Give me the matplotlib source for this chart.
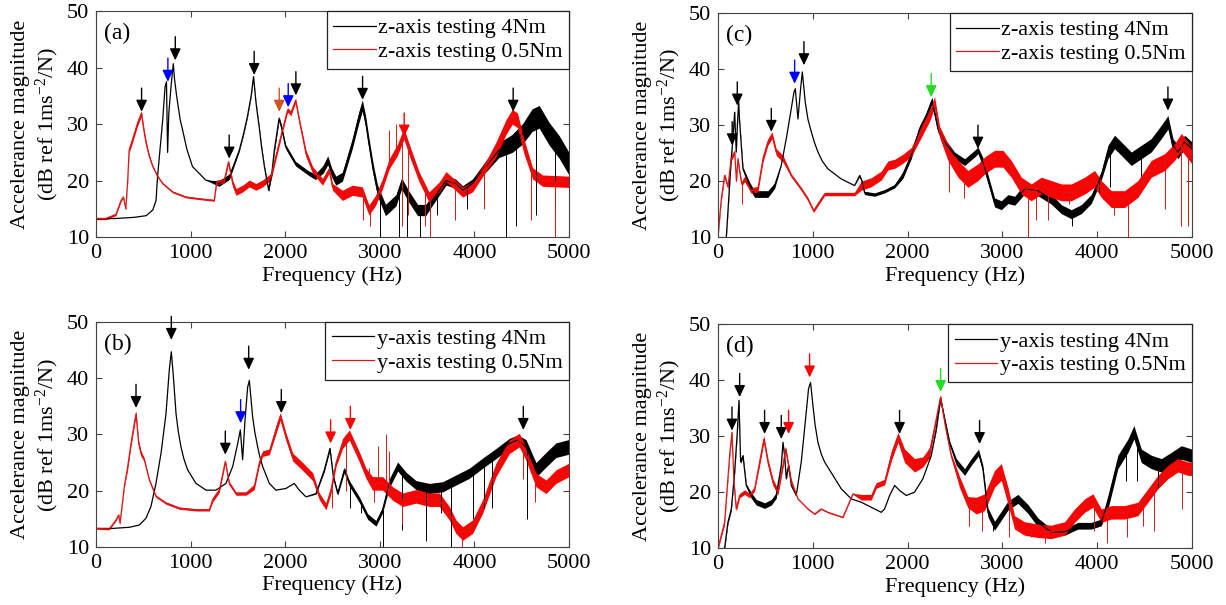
import numpy as np
import matplotlib
matplotlib.use('Agg')
import matplotlib.pyplot as plt

plt.rcParams['font.family'] = ['Liberation Serif', 'DejaVu Serif']
plt.rcParams['mathtext.fontset'] = 'custom'
plt.rcParams['mathtext.rm'] = 'Liberation Serif'
plt.rcParams['mathtext.default'] = 'regular'

FS = 16
RED = '#ff0000'
RED_LINE = '#d41a1a'

# ---------------- panel (a): z-axis ----------------
a_blk_f = [0, 200, 400, 530, 600, 635, 650, 705, 730, 745, 757, 770, 795, 817, 830, 850, 870, 890, 915, 960,
           1020, 1160, 1300, 1410, 1515, 1560, 1600, 1640, 1665, 1690, 1705, 1725, 1750, 1780, 1825, 1860, 1885, 1935, 1960, 2005,
           2110, 2250, 2320, 2400, 2450, 2490, 2535, 2605, 2710, 2780, 2815, 2850, 2885, 2930, 2975, 3060, 3170, 3230, 3310, 3400,
           3485, 3555, 3700, 3800, 3875, 3980, 4120, 4260, 4400, 4510, 4610, 4685, 4790, 4895, 5000]
a_blk_db = [13.2, 13.3, 13.5, 13.8, 14.8, 16.5, 20.6, 30.7, 36.6, 37.5, 25, 32, 37, 40.7, 38, 35.3, 33, 30.8, 29, 25.6,
            22.5, 20.1, 19.5, 20.7, 25.4, 28.3, 31.3, 35, 38.4, 34, 32, 29.5, 26, 22.5, 18.3, 21.5, 25.4, 31, 29.5, 26,
            23, 21.3, 20.7, 22, 23.6, 21.5, 20, 20.7, 26.6, 31.3, 33.3, 30.5, 26.6, 22, 18.3, 14.8, 16.5, 19.5, 17.1, 14.8,
            14.8, 16.5, 20, 19.5, 18.3, 19.5, 22.5, 25.4, 26.6, 28.3, 30.7, 31.3, 28.3, 26, 23]
a_blk_w = ([0] * 22 + [0.5] * 2 + [0.2] * 10 + [0.3] + [0.4] * 7 + [0.5] + [0.7] + [0.8] * 4 + [0.9] +
           [1.0] * 12 + [0.9] + [0.8] * 4 + [1.0, 1.3, 1.6, 1.8] + [2.0] * 5)
a_blk_spk_f = [3000, 3200, 3290, 3420, 3600, 3920, 4100, 4330, 4440, 4650, 4850]
a_blk_spk_y = [10, 10, 10, 10, 14, 15, 16, 10, 12, 14, 15]

a_red_f = [0, 105, 210, 265, 290, 315, 335, 350, 385, 440, 480, 505, 530, 560, 600, 650, 705, 810, 950, 1090,
           1250, 1275, 1355, 1400, 1445, 1480, 1550, 1620, 1690, 1760, 1850, 1900, 1970, 2025, 2060, 2110, 2155, 2220, 2290, 2395,
           2465, 2500, 2605, 2710, 2815, 2885, 2955, 3030, 3100, 3185, 3255, 3325, 3415, 3520, 3630, 3700, 3800, 3875, 3980, 4120,
           4225, 4335, 4400, 4455, 4525, 4615, 4720, 5000]
a_red_db = [13.3, 13.3, 14, 16.5, 17.1, 15, 20, 25.4, 27.2, 30.2, 31.9, 29, 26.6, 24.5, 22.5, 20.8, 19.5, 18, 17.1, 16.8,
            16.5, 19.7, 20, 23.3, 19.5, 18, 18.6, 19.5, 18.9, 19.5, 20.7, 24.2, 28.9, 32.5, 31.9, 34.2, 30.2, 24.8, 21.9, 19.8,
            21.9, 18.9, 17.4, 18.3, 18, 14.8, 16.5, 19.5, 23, 25.4, 28.3, 24.8, 20.7, 17.1, 18.9, 20.7, 19.2, 18, 18.9, 22.5,
            25.4, 29.5, 31.3, 30.7, 26, 21.3, 20, 19.8]
a_red_w = ([0.2] * 6 + [0.3] + [0.5] * 5 + [0.4, 0.3, 0.2] + [0.15] * 6 + [0.4] * 3 + [0.6] * 8 + [0.4] * 5 +
           [0.6] * 5 + [0.9] * 7 + [1.0] * 3 + [0.9] * 8 + [1.3] * 5 + [1.0] * 3)
a_red_spk_f = [2820, 2900, 3100, 3170, 3230, 3300, 3480, 3530, 3800, 4100, 4600, 4850]
a_red_spk_y = [13, 12, 29, 30, 12, 14, 12, 10, 13, 15, 13, 10]

a_arr_f = [482, 760, 838, 1408, 1672, 1937, 2032, 2113, 2818, 3258, 4410]
a_arr_y = [32.2, 37.5, 41.3, 23.9, 38.7, 32.2, 33.0, 35.1, 34.3, 27.8, 32.2]
a_arr_c = ['k', 'b', 'k', 'k', 'k', '#d2521e', 'b', 'k', 'k', 'r', 'k']

# ---------------- panel (b): y-axis ----------------
b_blk_f = [0, 176, 352, 458, 528, 581, 634, 687, 740, 775, 796, 818, 846, 870, 898, 930, 969, 1057, 1163, 1268,
           1374, 1445, 1498, 1526, 1550, 1575, 1603, 1621, 1656, 1680, 1709, 1735, 1762, 1832, 1902, 2008, 2096, 2149, 2220, 2326,
           2414, 2473, 2509, 2555, 2625, 2678, 2784, 2872, 2960, 3030, 3100, 3189, 3277, 3383, 3524, 3665, 3805, 3946, 4087, 4228,
           4369, 4457, 4545, 4651, 4757, 4862, 5000]
b_blk_db = [13.3, 13.3, 13.5, 13.9, 15.1, 17.2, 21.3, 26.6, 33.7, 41.5, 44.7, 40.3, 33.7, 30.5, 27.8, 25.6, 23.7, 21.3, 20.1, 20.1,
            21.3, 24.3, 28.4, 30.8, 25.5, 32.5, 38.4, 39.6, 33.1, 30.3, 27.8, 25.8, 24.3, 21.3, 20.1, 20.4, 21.3, 20.1, 18.9, 19.5,
            23.7, 27.5, 22.5, 19.5, 23.7, 21.3, 18.4, 15.4, 14.2, 16.6, 21.3, 24.3, 22.5, 21, 20.4, 20.7, 21.9, 23.1, 24.9, 26.6,
            28.4, 29, 27.8, 23.7, 25.5, 27.2, 27.8]
b_blk_w = [0] * 39 + [0.1] + [0.3] * 4 + [0.5] * 6 + [0.8] * 4 + [0.9] * 8 + [1.3] * 5
b_blk_spk_f = [2690, 2800, 3030, 3240, 3490, 3650, 3750, 3990, 4100, 4190, 4560]
b_blk_spk_y = [17, 16, 10, 13, 11, 16, 10, 15, 17, 17, 15]

b_red_f = [0, 141, 211, 240, 254, 300, 335, 370, 405, 423, 451, 476, 511, 564, 634, 740, 881, 1057, 1198, 1233,
           1304, 1367, 1409, 1480, 1585, 1673, 1726, 1762, 1832, 1902, 1948, 2008, 2079, 2185, 2290, 2361, 2431, 2484, 2537, 2607,
           2678, 2784, 2854, 2924, 3030, 3136, 3241, 3383, 3524, 3629, 3735, 3805, 3876, 3981, 4087, 4228, 4369, 4475, 4545, 4651,
           4757, 4862, 5000]
b_red_db = [13.3, 13.2, 14.8, 15.7, 14.2, 20.8, 24.3, 28.4, 32, 33.7, 28.4, 26.6, 25.5, 21.9, 19, 17.8, 16.9, 16.6, 16.6, 18.4,
            20.1, 25.2, 21.3, 19.5, 19.5, 20.7, 24.9, 26.6, 26.9, 30.8, 33.2, 29.6, 26, 24.3, 22.5, 19, 17.2, 20.1, 24.9, 28.4,
            29.9, 26, 23.1, 21.3, 21.3, 19.5, 18.4, 19, 18.4, 18.4, 16, 13.6, 12.4, 13.6, 17.2, 23.7, 27.8, 29, 26.6, 21.9,
            20.7, 22.5, 23.7]
b_red_w = ([0.15] * 5 + [0.2] + [0.5] * 6 + [0.3] + [0.2] * 6 + [0.4] * 2 + [0.3] * 4 + [0.5] * 4 + [0.7] * 6 +
           [0.6] * 4 + [0.9] * 4 + [1.2] * 20)
b_red_spk_f = [2500, 2640, 2890, 2940, 2977, 3065, 3100, 3240, 3870, 4510, 4640]
b_red_spk_y = [17, 20, 24, 18, 28, 30, 27, 14, 10, 22, 18]

b_arr_f = [423, 796, 1367, 1529, 1614, 1959, 2480, 2689, 4517]
b_arr_y = [34.7, 46.8, 26.4, 32.0, 41.5, 33.8, 28.4, 30.8, 30.8]
b_arr_c = ['k', 'k', 'k', 'b', 'k', 'k', 'r', 'r', 'k']

# ---------------- panel (c): z-axis ----------------
c_blk_f = [88, 105, 140, 158, 176, 193, 205, 218, 229, 264, 334, 387, 457, 527, 598, 668, 721, 774, 802, 816,
           844, 872, 890, 921, 950, 985, 1020, 1055, 1100, 1160, 1300, 1442, 1494, 1519, 1547, 1653, 1758, 1864, 1951, 2039,
           2127, 2198, 2258, 2321, 2391, 2496, 2602, 2707, 2743, 2795, 2848, 2918, 2989, 3059, 3130, 3235, 3375, 3516, 3622, 3727,
           3833, 3938, 4044, 4114, 4184, 4255, 4360, 4466, 4571, 4677, 4747, 4800, 4852, 4923, 5000]
c_blk_db = [10, 14.5, 24, 27.6, 32.3, 25.2, 30, 34.1, 30.5, 22.2, 19.2, 17.7, 17.7, 17.7, 19.2, 22.8, 27.6, 33, 35.9, 36.5,
            31.1, 36.5, 39.5, 34.1, 31, 28.8, 26.8, 25.2, 23.6, 22.2, 20.4, 19.2, 21, 20, 17.9, 17.6, 18.2, 19.1, 21.1, 24.6,
            29.3, 31.7, 34.4, 29.3, 27, 24.6, 23.4, 24.9, 25.5, 23.4, 20.4, 16.2, 15.7, 16.8, 16.5, 18.6, 18.3, 16.8, 15, 14.1,
            15, 16.8, 21, 25.2, 27, 25.8, 24, 25.2, 26.4, 28.8, 30.5, 26.4, 25.2, 27, 25.8]
c_blk_w = ([0.3] * 10 + [0.6] * 4 + [0.5] + [0] * 17 + [0.2] * 2 + [0.3] * 4 + [0.6] * 11 + [0.8] * 6 +
           [0.9] * 3 + [0.8] * 5 + [1.2] * 12)
c_blk_spk_f = [3740, 4020, 4140, 4460]
c_blk_spk_y = [12, 18, 19, 21]

c_red_f = [0, 35, 70, 105, 140, 176, 195, 211, 230, 250, 281, 352, 422, 475, 527, 570, 615, 686, 774, 879,
           949, 1009, 1055, 1125, 1231, 1336, 1442, 1512, 1617, 1723, 1793, 1864, 1951, 2039, 2145, 2233, 2285, 2338, 2426, 2532,
           2637, 2743, 2813, 2918, 3006, 3094, 3200, 3305, 3411, 3516, 3622, 3727, 3868, 3973, 4044, 4149, 4290, 4430, 4571, 4712,
           4817, 4888, 5000]
c_red_db = [10, 16.8, 21, 19, 24, 25.2, 20, 24, 21.6, 19.5, 20.4, 18.3, 18.6, 24, 27, 28.2, 25.2, 24, 21, 18.6,
            16.8, 14.7, 15.9, 17.7, 17.7, 17.7, 17.7, 19.2, 19.8, 21, 22.8, 23.1, 24, 25.2, 28.8, 31.7, 34.1, 28.8, 25.2, 22.2,
            20.4, 21.6, 22.8, 24, 24, 22.2, 19.2, 18, 19.2, 18.6, 18, 18, 19.2, 20.4, 18.6, 16.8, 16.8, 18.6, 22.2, 23.4,
            25.2, 27, 24.6]
c_red_w = [0.3] + [0.4] * 9 + [0.5] * 3 + [0.6] * 5 + [0.3] * 9 + [0.8] * 7 + [1.0] * 4 + [1.5] * 25
c_red_spk_f = [250, 2440, 2600, 3270, 3350, 3480, 3700, 4180, 4325, 4720, 4890, 4960]
c_red_spk_y = [16, 18, 17, 10, 13, 13, 16, 14, 10, 15, 12, 12]

c_arr_f = [150, 204, 563, 809, 907, 2250, 2743, 4747]
c_arr_y = [26.4, 33.5, 28.8, 37.4, 40.7, 35.0, 25.8, 32.6]
c_arr_c = ['k', 'k', 'k', 'b', 'k', '#22dd22', 'k', 'k']

# ---------------- panel (d): y-axis ----------------
d_blk_f = [70, 105, 141, 176, 204, 222, 239, 264, 299, 352, 404, 492, 563, 615, 668, 686, 703, 721, 745, 774,
           826, 879, 921, 956, 977, 1002, 1025, 1055, 1090, 1125, 1213, 1301, 1406, 1512, 1617, 1723, 1758, 1811, 1864, 1916,
           1987, 2074, 2162, 2250, 2303, 2348, 2391, 2443, 2514, 2602, 2672, 2749, 2795, 2848, 2918, 2989, 3059, 3164, 3270, 3375,
           3516, 3657, 3797, 3938, 4044, 4114, 4219, 4325, 4388, 4466, 4571, 4677, 4782, 4888, 5000]
d_blk_db = [10, 14.6, 17, 23.6, 30.7, 36.4, 25.4, 26.5, 21.2, 19.4, 18.2, 17.6, 18.2, 19.4, 24.8, 28.9, 26.5, 22.4, 24.8, 21.2,
            19.4, 25.4, 32.5, 38.5, 39.6, 35.5, 32, 28.9, 26.8, 25.4, 23, 20.6, 18.8, 18.2, 17.3, 16.4, 17, 19.4, 21.2, 20.3,
            19.4, 20, 22.4, 26.5, 31.3, 36.7, 33.1, 28.9, 25.4, 23.6, 25.4, 27.1, 24.2, 16.4, 14, 15.8, 17.6, 18.8, 17, 14.6,
            12.9, 12.9, 14, 14, 14.6, 18.2, 25.4, 28.3, 30.7, 26.5, 25.4, 24.8, 25.9, 27.1, 26.5]
d_blk_w = [0.3] * 9 + [0.5] * 5 + [0.2] * 6 + [0] * 24 + [0.3] * 4 + [0.6] * 5 + [0.8] * 7 + [0.6] * 5 + [1.2] * 10
d_blk_spk_f = [2900, 4300, 4420, 4640]
d_blk_spk_y = [13, 22, 22, 21]

d_red_f = [0, 70, 123, 148, 169, 193, 229, 281, 334, 387, 440, 485, 527, 580, 633, 686, 714, 738, 774, 844,
           949, 1020, 1090, 1160, 1266, 1318, 1371, 1424, 1512, 1617, 1670, 1758, 1829, 1899, 1969, 2074, 2162, 2233, 2303, 2348,
           2398, 2461, 2549, 2637, 2725, 2813, 2918, 2989, 3059, 3129, 3235, 3375, 3516, 3657, 3762, 3868, 3956, 4044, 4149, 4290,
           4430, 4536, 4641, 4747, 4852, 4958, 5000]
d_red_db = [10, 14.6, 26.5, 30.7, 21.8, 17, 19.4, 20, 19.4, 20.6, 25.4, 29.5, 25.4, 21.8, 20, 24.8, 27.7, 25.4, 21.8, 18.8,
            17, 16.1, 17, 16.4, 15.8, 15.5, 17.6, 19.7, 19.1, 19.1, 21.2, 21.8, 26.5, 29.8, 26.5, 24.8, 25.4, 27.1, 33.1, 37,
            31.9, 26.5, 21.8, 18.2, 17.6, 18.2, 22.4, 23.6, 19.4, 14.6, 13.5, 13.1, 12.9, 13.5, 15.8, 17.6, 18.5, 15.8, 16.4, 16.4,
            17, 19.4, 21.8, 23.6, 24.8, 24.2, 24.2]
d_red_w = ([0.3] + [0.4] * 9 + [0.6] * 4 + [0.5] * 5 + [0.1] * 9 + [0.5] * 4 + [0.9] * 2 + [1.2] * 2 + [0.9] * 2 +
           [0.4] * 4 + [1.0] * 2 + [1.5] * 5 + [1.2] * 18)
d_red_spk_f = [2650, 2790, 3070, 3300, 3450, 3970, 4100, 4320, 4480, 4600, 4900]
d_red_spk_y = [14, 13, 12, 12, 11, 13, 11, 12, 14, 13, 17]

d_arr_f = [148, 229, 492, 668, 745, 967, 1916, 2349, 2760]
d_arr_y = [31.0, 37.0, 30.4, 29.5, 30.4, 40.5, 30.4, 37.9, 28.6]
d_arr_c = ['k', 'k', 'k', 'k', 'r', 'r', 'k', '#22dd22', 'k']


def draw_curve(ax, f, db, w, spk_f, spk_y, fill_col, line_col, label):
    f = np.asarray(f, float)
    db = np.asarray(db, float)
    w = np.asarray(w, float)
    ax.fill_between(f, db - w, db + w, color=fill_col, lw=0)
    ax.plot(f, db, color=line_col, lw=0.9, label=label)
    top = np.interp(spk_f, f, db)
    ax.vlines(spk_f, spk_y, top, color=line_col, lw=0.7)


def setup(ax, tag):
    ax.set_xlim(0, 5000)
    ax.set_ylim(10, 50)
    ax.set_xticks([0, 1000, 2000, 3000, 4000, 5000])
    ax.set_yticks([10, 20, 30, 40, 50])
    ax.tick_params(direction='in', top=True, right=True, length=4, width=0.8,
                   labelsize=FS, pad=5, color='#444444')
    for s in ax.spines.values():
        s.set_color('#444444')
        s.set_linewidth(0.8)
    ax.set_xlabel('Frequency (Hz)', fontsize=FS, labelpad=2)
    ax.set_ylabel('Accelerance magnitude\n(dB ref 1ms$^{-2}$/N)', fontsize=FS, labelpad=4)
    ax.text(0.016, 0.9, tag, transform=ax.transAxes, fontsize=FS + 1, va='center', ha='left')
    leg = ax.legend(loc='upper right', fontsize=FS, frameon=True, fancybox=False,
                    edgecolor='#222222', framealpha=1, borderaxespad=0, handlelength=1.9,
                    handletextpad=0.1, labelspacing=0.15, borderpad=0.3)
    leg.get_frame().set_linewidth(0.9)


def arrows(ax, fs, ys, cs):
    for f, y, c in zip(fs, ys, cs):
        ax.annotate('', xy=(f, y), xytext=(0, 17), textcoords='offset points',
                    arrowprops=dict(arrowstyle='-|>,head_length=0.7,head_width=0.33',
                                    color=c, lw=1.0, shrinkA=0, shrinkB=0))


fig = plt.figure(figsize=(12.26, 6.05), dpi=100)
ax_a = fig.add_axes([0.0783, 0.608, 0.3858, 0.3736])
ax_c = fig.add_axes([0.5856, 0.608, 0.3866, 0.3703])
ax_b = fig.add_axes([0.0783, 0.0959, 0.3858, 0.372])
ax_d = fig.add_axes([0.5856, 0.094, 0.3866, 0.370])

panels = [
    (ax_a, '(a)', 'z', a_blk_f, a_blk_db, a_blk_w, a_blk_spk_f, a_blk_spk_y,
     a_red_f, a_red_db, a_red_w, a_red_spk_f, a_red_spk_y, a_arr_f, a_arr_y, a_arr_c),
    (ax_b, '(b)', 'y', b_blk_f, b_blk_db, b_blk_w, b_blk_spk_f, b_blk_spk_y,
     b_red_f, b_red_db, b_red_w, b_red_spk_f, b_red_spk_y, b_arr_f, b_arr_y, b_arr_c),
    (ax_c, '(c)', 'z', c_blk_f, c_blk_db, c_blk_w, c_blk_spk_f, c_blk_spk_y,
     c_red_f, c_red_db, c_red_w, c_red_spk_f, c_red_spk_y, c_arr_f, c_arr_y, c_arr_c),
    (ax_d, '(d)', 'y', d_blk_f, d_blk_db, d_blk_w, d_blk_spk_f, d_blk_spk_y,
     d_red_f, d_red_db, d_red_w, d_red_spk_f, d_red_spk_y, d_arr_f, d_arr_y, d_arr_c),
]

for (ax, tag, axis, bf, bdb, bw, bsf, bsy, rf, rdb, rw, rsf, rsy, af, ay, ac) in panels:
    draw_curve(ax, bf, bdb, bw, bsf, bsy, 'black', 'black', axis + '-axis testing 4Nm')
    draw_curve(ax, rf, rdb, rw, rsf, rsy, RED, RED_LINE, axis + '-axis testing 0.5Nm')
    setup(ax, tag)
    arrows(ax, af, ay, ac)

fig.savefig('out.png', dpi=100)
